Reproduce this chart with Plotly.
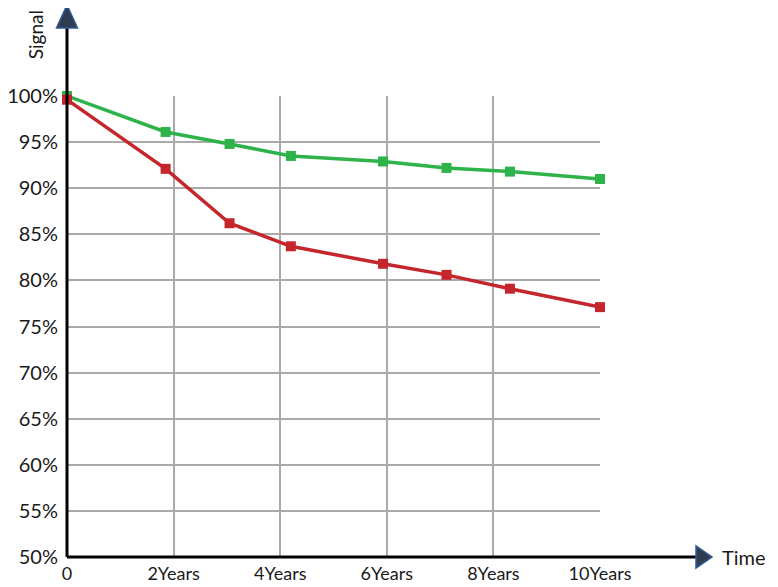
import plotly.graph_objects as go

# signal retention over time
years = [0, 1.85, 3.05, 4.2, 5.93, 7.12, 8.31, 10]
green_signal = [100.0, 96.1, 94.8, 93.5, 92.9, 92.2, 91.8, 91.0]
red_signal = [99.6, 92.1, 86.2, 83.7, 81.8, 80.6, 79.1, 77.1]

x_ticks = [0, 2, 4, 6, 8, 10]
x_labels = ["0", "2Years", "4Years", "6Years", "8Years", "10Years"]
y_ticks = list(range(50, 101, 5))
y_labels = [f"{v}%" for v in y_ticks]

FONT = "Lato, 'Open Sans', sans-serif"
ARROW_FILL = "#303c50"
ARROW_EDGE = "#2f5b98"

fig = go.Figure()
fig.add_trace(go.Scatter(x=years, y=green_signal, mode="lines+markers",
                         line=dict(color="#2db34a", width=3.5),
                         marker=dict(symbol="square", size=10, color="#2db34a"),
                         cliponaxis=False, showlegend=False))
fig.add_trace(go.Scatter(x=years, y=red_signal, mode="lines+markers",
                         line=dict(color="#c4262c", width=3.5),
                         marker=dict(symbol="square", size=10, color="#c4262c"),
                         cliponaxis=False, showlegend=False))

# the page body adds an 8px offset, so the figure is 8px smaller on each side
fig.update_layout(
    width=770, height=579,
    margin=dict(l=59, r=178, t=88, b=30, autoexpand=False),
    paper_bgcolor="white", plot_bgcolor="white",
    font=dict(family=FONT, size=20, color="#1a1a1a"),
    xaxis=dict(range=[0, 10], tickvals=x_ticks, ticktext=x_labels,
               showgrid=True, gridcolor="#aaaaaa", gridwidth=1.5,
               zeroline=False, showline=False, ticks="", automargin=False,
               ticklabelstandoff=4, tickfont=dict(size=18)),
    yaxis=dict(range=[50, 100], tickvals=y_ticks, ticktext=y_labels,
               showgrid=True, gridcolor="#aaaaaa", gridwidth=1.5,
               zeroline=False, showline=False, ticks="", automargin=False,
               ticklabelstandoff=8, tickfont=dict(size=20)),
)

# axis lines that run past the plot area, ending in arrow heads
fig.add_shape(type="line", xref="paper", yref="paper", x0=0, y0=0, x1=0, y1=1.15,
              line=dict(color="black", width=3))
fig.add_shape(type="line", xref="paper", yref="paper", x0=0, y0=0, x1=1.185, y1=0,
              line=dict(color="black", width=3))
fig.add_shape(type="path", xref="paper", yref="paper", xanchor=0, yanchor=0,
              xsizemode="pixel", ysizemode="pixel",
              path="M -10.5,529 L 10.5,529 L 0,552 Z",
              fillcolor=ARROW_FILL, line=dict(color=ARROW_EDGE, width=1.5))
fig.add_shape(type="path", xref="paper", yref="paper", xanchor=0, yanchor=0,
              xsizemode="pixel", ysizemode="pixel",
              path="M 629,11 L 629,-11 L 645,0 Z",
              fillcolor=ARROW_FILL, line=dict(color=ARROW_EDGE, width=1.5))

fig.add_annotation(text="Signal", xref="paper", yref="paper", x=-0.06, y=1.132,
                   xanchor="center", yanchor="middle",
                   textangle=-90, showarrow=False, font=dict(size=19))
fig.add_annotation(text="Time", xref="paper", yref="paper", x=1.225, y=0,
                   xanchor="left", yanchor="middle", showarrow=False,
                   font=dict(size=20))

fig.write_html("out.html")
